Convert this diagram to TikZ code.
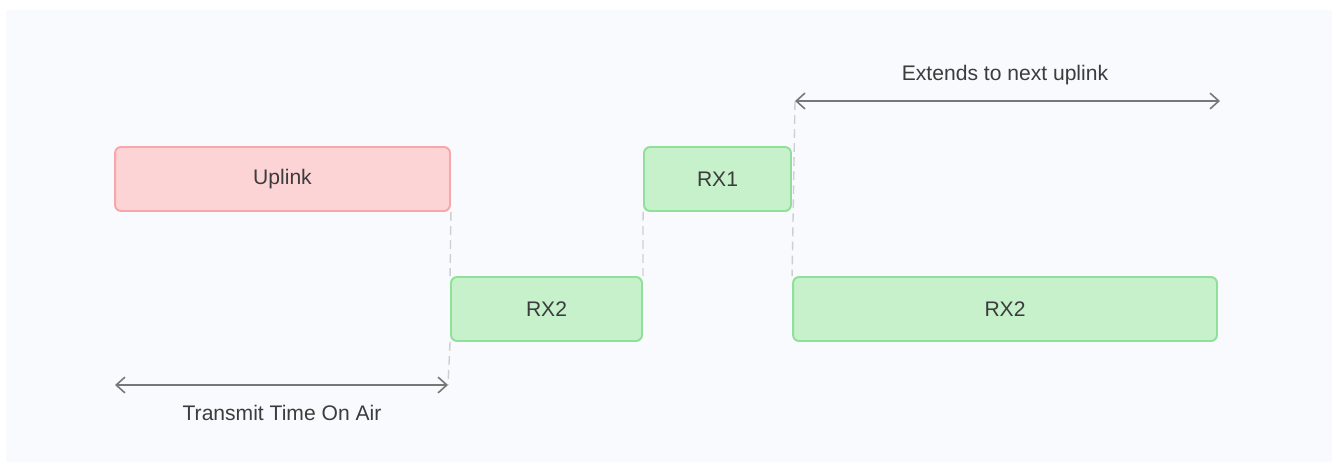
\documentclass[tikz,border=0pt]{standalone}
\usepackage{fontspec}
\setmainfont{Liberation Sans}
\usepackage{tikz}
\usetikzlibrary{arrows.meta}
\definecolor{bgcol}{HTML}{F9FAFD}
\definecolor{upfill}{HTML}{FDD4D6}
\definecolor{updraw}{HTML}{F7A6AA}
\definecolor{rxfill}{HTML}{C6F1CA}
\definecolor{rxdraw}{HTML}{8EE09A}
\definecolor{txtcol}{HTML}{3C3C3C}
\definecolor{arrcol}{HTML}{777777}
\definecolor{dashcol}{HTML}{CFCFCF}

\begin{document}
\begin{tikzpicture}[x=0.02cm, y=-0.02cm,
    every node/.style={font=\fontsize{12}{14}\selectfont, text=txtcol},
    slot/.style={rectangle, rounded corners=0.12cm, line width=1.1pt, minimum height=1.28cm, inner sep=0pt},
    upslot/.style={slot, fill=upfill, draw=updraw},
    rxslot/.style={slot, fill=rxfill, draw=rxdraw},
    span/.style={arrcol, line width=0.9pt, {Straight Barb[length=5pt,width=9pt]}-{Straight Barb[length=5pt,width=9pt]}},
    guide/.style={dashcol, line width=0.8pt, dash pattern=on 5pt off 3pt}]

    %Canvas
    \useasboundingbox (0,0) rectangle (1338,466);
    \fill[color=bgcol] (6,10) rectangle (1332,462); %Light background

    %Slots
    \node[upslot, minimum width=6.7cm] (up) at (282.5,179) {Uplink};   %Uplink
    \node[rxslot, minimum width=2.94cm] (rx1) at (717.5,179) {RX1};   %First window
    \node[rxslot, minimum width=3.82cm] (rx2a) at (546.5,309) {RX2};  %Second window
    \node[rxslot, minimum width=8.48cm] (rx2b) at (1005,309) {RX2};   %Long second window

    %Arrow ends
    \coordinate (txL) at (115,385);
    \coordinate (txR) at (448,385);
    \coordinate (extL) at (795,101);
    \coordinate (extR) at (1220,101);

    %Guide lines
    \draw[guide] (up.south east) -- (rx2a.north west);  %Uplink end
    \draw[guide] (rx2a.south west) -- (txR);            %Down to time on air
    \draw[guide] (rx1.south west) -- (rx2a.north east); %RX2 end / RX1 start
    \draw[guide] (extL) -- (rx2b.north west);           %RX1 end

    %Spans
    \draw[span] (txL) -- (txR);   %Time on air
    \draw[span] (extL) -- (extR); %Until next uplink

    %Span labels
    \node (toa) at (282,413) {Transmit Time On Air};
    \node (ext) at (1005,75) {Extends to next uplink};

\end{tikzpicture}
\end{document}
